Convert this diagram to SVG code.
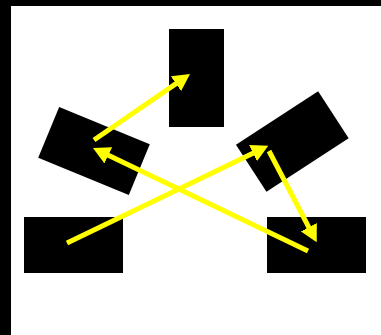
<svg xmlns="http://www.w3.org/2000/svg" width="381" height="335" viewBox="0 0 381 335">
<defs>
<style>
.node{fill:#000}
.arrow{stroke:#ffff00;stroke-width:5;fill:none;marker-end:url(#head)}
</style>
<marker id="head" markerUnits="userSpaceOnUse" markerWidth="18" markerHeight="18" refX="4" refY="9" orient="auto" viewBox="0 0 18 18">
<path d="M0,0 L17,9 L0,18 z" fill="#ffff00"/>
</marker>
</defs>
<rect x="0" y="0" width="381" height="335" fill="#000"/>
<rect x="11" y="6" width="370" height="329" fill="#fff"/>
<g id="node-top"><rect class="node" x="169" y="29" width="55" height="98"/></g>
<g id="node-left"><rect class="node" x="-49" y="-27.5" width="98" height="55" transform="translate(94 151) rotate(22.4)"/></g>
<g id="node-right"><rect class="node" x="-49" y="-28" width="98" height="56" transform="translate(292.3 141.5) rotate(-33)"/></g>
<g id="node-bottom-left"><rect class="node" x="24" y="217" width="99" height="56"/></g>
<g id="node-bottom-right"><rect class="node" x="267" y="217" width="99" height="56"/></g>
<g id="connectors">
<line class="arrow" x1="94" y1="140" x2="179.3" y2="81.4"/>
<line class="arrow" x1="308" y1="251" x2="104.7" y2="153.6"/>
<line class="arrow" x1="67" y1="243" x2="256.6" y2="151.4"/>
<line class="arrow" x1="269" y1="151" x2="310.7" y2="230.8"/>
</g>
</svg>
